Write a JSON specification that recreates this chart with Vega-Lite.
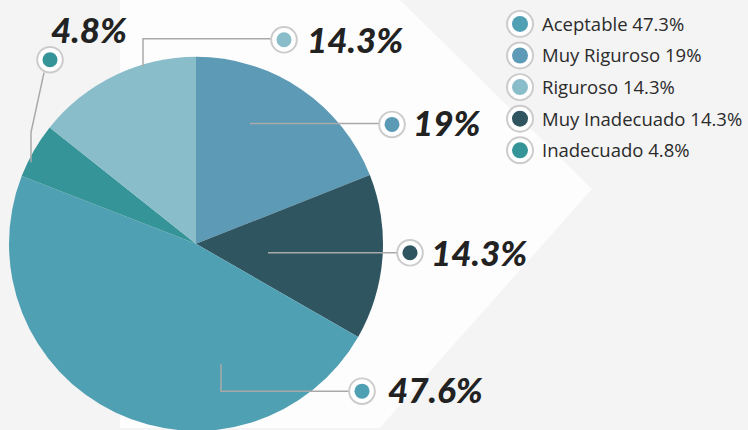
{
  "$schema": "https://vega.github.io/schema/vega-lite/v6.json",
  "width": 748,
  "height": 430,
  "padding": 0,
  "autosize": {"type": "fit", "contains": "padding"},
  "background": "#f4f4f4",
  "config": {"view": {"stroke": null}},
  "resolve": {"scale": {"y": "independent"}},
  "datasets": {
    "porciones": [
      {"categoria": "Muy Riguroso", "valor": 19, "orden": 1, "rango": 2, "leyenda": "Muy Riguroso 19%"},
      {"categoria": "Muy Inadecuado", "valor": 14.3, "orden": 2, "rango": 4, "leyenda": "Muy Inadecuado 14.3%"},
      {"categoria": "Aceptable", "valor": 47.6, "orden": 3, "rango": 1, "leyenda": "Aceptable 47.3%"},
      {"categoria": "Inadecuado", "valor": 4.8, "orden": 4, "rango": 5, "leyenda": "Inadecuado 4.8%"},
      {"categoria": "Riguroso", "valor": 14.3, "orden": 5, "rango": 3, "leyenda": "Riguroso 14.3%"}
    ],
    "llamadas": [
      {"categoria": "Muy Riguroso", "etiqueta": "19%", "cx": 392, "cy": 125, "tx": 413, "ty": 126},
      {"categoria": "Muy Inadecuado", "etiqueta": "14.3%", "cx": 410, "cy": 254, "tx": 431, "ty": 256},
      {"categoria": "Aceptable", "etiqueta": "47.6%", "cx": 362, "cy": 393, "tx": 388, "ty": 394},
      {"categoria": "Inadecuado", "etiqueta": "4.8%", "cx": 50, "cy": 60, "tx": 51, "ty": 32},
      {"categoria": "Riguroso", "etiqueta": "14.3%", "cx": 284, "cy": 40, "tx": 307, "ty": 42}
    ],
    "guias": [
      {"id": "Muy Riguroso", "paso": 1, "gx": 250, "gy": 124},
      {"id": "Muy Riguroso", "paso": 2, "gx": 384, "gy": 124},
      {"id": "Muy Inadecuado", "paso": 1, "gx": 268, "gy": 254},
      {"id": "Muy Inadecuado", "paso": 2, "gx": 400, "gy": 254},
      {"id": "Aceptable", "paso": 1, "gx": 221, "gy": 366},
      {"id": "Aceptable", "paso": 2, "gx": 221, "gy": 393},
      {"id": "Aceptable", "paso": 3, "gx": 352, "gy": 393},
      {"id": "Riguroso", "paso": 1, "gx": 143, "gy": 67},
      {"id": "Riguroso", "paso": 2, "gx": 143, "gy": 39},
      {"id": "Riguroso", "paso": 3, "gx": 272, "gy": 39},
      {"id": "Inadecuado", "paso": 1, "gx": 31, "gy": 163},
      {"id": "Inadecuado", "paso": 2, "gx": 31, "gy": 133},
      {"id": "Inadecuado", "paso": 3, "gx": 44, "gy": 73}
    ],
    "fondo": [
      {"fx": 120, "arriba": 0, "abajo": 430},
      {"fx": 380, "arriba": 0, "abajo": 430},
      {"fx": 400, "arriba": 0, "abajo": 407},
      {"fx": 592, "arriba": 190, "abajo": 190}
    ]
  },
  "layer": [
    {
      "data": {"name": "fondo"},
      "mark": {"type": "area", "color": "#ffffff", "opacity": 0.8},
      "encoding": {
        "x": {"field": "fx", "type": "quantitative", "scale": {"domain": [0, 748], "nice": false, "zero": false}, "axis": null},
        "y": {"field": "arriba", "type": "quantitative", "scale": {"domain": [0, 430], "nice": false, "zero": false, "reverse": true}, "axis": null},
        "y2": {"field": "abajo"}
      }
    },
    {
      "data": {"name": "porciones"},
      "mark": {"type": "arc", "outerRadius": 187},
      "encoding": {
        "x": {"datum": 196, "type": "quantitative"},
        "y": {"datum": 245, "type": "quantitative", "scale": {"domain": [0, 430], "nice": false, "zero": false, "reverse": true}, "axis": null},
        "theta": {"field": "valor", "type": "quantitative", "stack": true},
        "order": {"field": "orden", "type": "quantitative"},
        "color": {
          "field": "categoria", "type": "nominal", "legend": null,
          "scale": {
            "domain": ["Aceptable", "Muy Riguroso", "Riguroso", "Muy Inadecuado", "Inadecuado"],
            "range": ["#50a0b4", "#5c9ab6", "#89bdca", "#2f5561", "#349497"]
          }
        }
      }
    },
    {
      "data": {"name": "guias"},
      "mark": {"type": "line", "color": "#a9a9a9", "strokeWidth": 1.5},
      "encoding": {
        "x": {"field": "gx", "type": "quantitative"},
        "y": {"field": "gy", "type": "quantitative", "scale": {"domain": [0, 430], "nice": false, "zero": false, "reverse": true}, "axis": null},
        "detail": {"field": "id"},
        "order": {"field": "paso", "type": "quantitative"}
      }
    },
    {
      "data": {"name": "llamadas"},
      "mark": {"type": "point", "shape": "circle", "filled": true, "size": 760, "color": "#cbcbcb", "opacity": 1},
      "encoding": {
        "x": {"field": "cx", "type": "quantitative"},
        "y": {"field": "cy", "type": "quantitative", "scale": {"domain": [0, 430], "nice": false, "zero": false, "reverse": true}, "axis": null}
      }
    },
    {
      "data": {"name": "llamadas"},
      "mark": {"type": "point", "shape": "circle", "filled": true, "size": 560, "color": "#ffffff", "opacity": 1},
      "encoding": {
        "x": {"field": "cx", "type": "quantitative"},
        "y": {"field": "cy", "type": "quantitative", "scale": {"domain": [0, 430], "nice": false, "zero": false, "reverse": true}, "axis": null}
      }
    },
    {
      "data": {"name": "llamadas"},
      "mark": {"type": "point", "shape": "circle", "filled": true, "size": 225, "opacity": 1},
      "encoding": {
        "x": {"field": "cx", "type": "quantitative"},
        "y": {"field": "cy", "type": "quantitative", "scale": {"domain": [0, 430], "nice": false, "zero": false, "reverse": true}, "axis": null},
        "color": {"field": "categoria", "type": "nominal", "legend": null}
      }
    },
    {
      "data": {"name": "llamadas"},
      "mark": {"type": "text", "align": "left", "baseline": "middle", "font": "Lato", "fontSize": 35, "fontWeight": 900, "fontStyle": "italic", "color": "#222222"},
      "encoding": {
        "x": {"field": "tx", "type": "quantitative"},
        "y": {"field": "ty", "type": "quantitative", "scale": {"domain": [0, 430], "nice": false, "zero": false, "reverse": true}, "axis": null},
        "text": {"field": "etiqueta"}
      }
    },
    {
      "data": {"name": "porciones"},
      "mark": {"type": "point", "shape": "circle", "filled": true, "size": 780, "color": "#cbcbcb", "opacity": 1},
      "encoding": {
        "x": {"datum": 520, "type": "quantitative"},
        "y": {"field": "rango", "type": "quantitative", "scale": {"domain": [0.244, 13.787], "nice": false, "zero": false, "reverse": true}, "axis": null}
      }
    },
    {
      "data": {"name": "porciones"},
      "mark": {"type": "point", "shape": "circle", "filled": true, "size": 580, "color": "#ffffff", "opacity": 1},
      "encoding": {
        "x": {"datum": 520, "type": "quantitative"},
        "y": {"field": "rango", "type": "quantitative", "scale": {"domain": [0.244, 13.787], "nice": false, "zero": false, "reverse": true}, "axis": null}
      }
    },
    {
      "data": {"name": "porciones"},
      "mark": {"type": "point", "shape": "circle", "filled": true, "size": 256, "opacity": 1},
      "encoding": {
        "x": {"datum": 520, "type": "quantitative"},
        "y": {"field": "rango", "type": "quantitative", "scale": {"domain": [0.244, 13.787], "nice": false, "zero": false, "reverse": true}, "axis": null},
        "color": {"field": "categoria", "type": "nominal", "legend": null}
      }
    },
    {
      "data": {"name": "porciones"},
      "mark": {"type": "text", "align": "left", "baseline": "middle", "dy": 1, "font": "Open Sans", "fontSize": 18.5, "fontWeight": 400, "color": "#2b2b2b"},
      "encoding": {
        "x": {"datum": 542, "type": "quantitative"},
        "y": {"field": "rango", "type": "quantitative", "scale": {"domain": [0.244, 13.787], "nice": false, "zero": false, "reverse": true}, "axis": null},
        "text": {"field": "leyenda"}
      }
    }
  ]
}
